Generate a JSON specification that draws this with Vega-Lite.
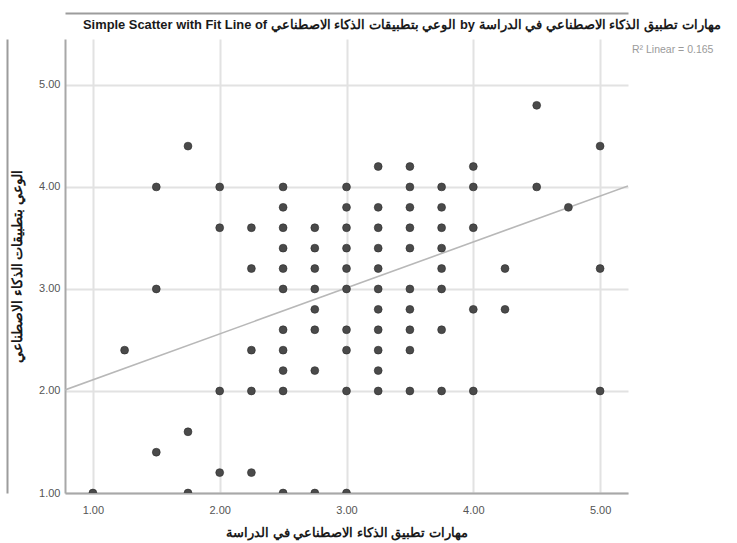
{
  "$schema": "https://vega.github.io/schema/vega-lite/v6.json",
  "width": 563,
  "height": 454,
  "autosize": {"type": "none"},
  "padding": {"left": 65, "top": 39, "right": 109, "bottom": 50},
  "background": "white",
  "config": {"view": {"stroke": null}, "font": "Liberation Sans"},
  "title": {
    "text": "Simple Scatter with Fit Line of الوعي بتطبيقات الذكاء الاصطناعي by مهارات تطبيق الذكاء الاصطناعي في الدراسة",
    "anchor": "start",
    "frame": "group",
    "dx": 18,
    "offset": -19,
    "fontSize": 12.9,
    "fontWeight": "bold",
    "font": "Liberation Sans",
    "color": "#1a1a1a"
  },
  "datasets": {
    "points": [
      {"x": 4.5, "y": 4.8},
      {"x": 1.75, "y": 4.4}, {"x": 5.0, "y": 4.4},
      {"x": 3.25, "y": 4.2}, {"x": 3.5, "y": 4.2}, {"x": 4.0, "y": 4.2},
      {"x": 1.5, "y": 4.0}, {"x": 2.0, "y": 4.0}, {"x": 2.5, "y": 4.0}, {"x": 3.0, "y": 4.0}, {"x": 3.5, "y": 4.0}, {"x": 3.75, "y": 4.0}, {"x": 4.0, "y": 4.0}, {"x": 4.5, "y": 4.0},
      {"x": 2.5, "y": 3.8}, {"x": 3.0, "y": 3.8}, {"x": 3.25, "y": 3.8}, {"x": 3.5, "y": 3.8}, {"x": 3.75, "y": 3.8}, {"x": 4.75, "y": 3.8},
      {"x": 2.0, "y": 3.6}, {"x": 2.25, "y": 3.6}, {"x": 2.5, "y": 3.6}, {"x": 2.75, "y": 3.6}, {"x": 3.0, "y": 3.6}, {"x": 3.25, "y": 3.6}, {"x": 3.5, "y": 3.6}, {"x": 3.75, "y": 3.6}, {"x": 4.0, "y": 3.6},
      {"x": 2.5, "y": 3.4}, {"x": 2.75, "y": 3.4}, {"x": 3.0, "y": 3.4}, {"x": 3.25, "y": 3.4}, {"x": 3.5, "y": 3.4}, {"x": 3.75, "y": 3.4},
      {"x": 2.25, "y": 3.2}, {"x": 2.5, "y": 3.2}, {"x": 2.75, "y": 3.2}, {"x": 3.0, "y": 3.2}, {"x": 3.25, "y": 3.2}, {"x": 3.75, "y": 3.2}, {"x": 4.25, "y": 3.2}, {"x": 5.0, "y": 3.2},
      {"x": 1.5, "y": 3.0}, {"x": 2.5, "y": 3.0}, {"x": 2.75, "y": 3.0}, {"x": 3.0, "y": 3.0}, {"x": 3.25, "y": 3.0}, {"x": 3.5, "y": 3.0}, {"x": 3.75, "y": 3.0},
      {"x": 2.75, "y": 2.8}, {"x": 3.25, "y": 2.8}, {"x": 3.5, "y": 2.8}, {"x": 4.0, "y": 2.8}, {"x": 4.25, "y": 2.8},
      {"x": 2.5, "y": 2.6}, {"x": 2.75, "y": 2.6}, {"x": 3.0, "y": 2.6}, {"x": 3.25, "y": 2.6}, {"x": 3.5, "y": 2.6}, {"x": 3.75, "y": 2.6},
      {"x": 1.25, "y": 2.4}, {"x": 2.25, "y": 2.4}, {"x": 2.5, "y": 2.4}, {"x": 3.0, "y": 2.4}, {"x": 3.25, "y": 2.4}, {"x": 3.5, "y": 2.4},
      {"x": 2.5, "y": 2.2}, {"x": 2.75, "y": 2.2}, {"x": 3.25, "y": 2.2},
      {"x": 2.0, "y": 2.0}, {"x": 2.25, "y": 2.0}, {"x": 2.5, "y": 2.0}, {"x": 3.0, "y": 2.0}, {"x": 3.25, "y": 2.0}, {"x": 3.5, "y": 2.0}, {"x": 3.75, "y": 2.0}, {"x": 4.0, "y": 2.0}, {"x": 5.0, "y": 2.0},
      {"x": 1.75, "y": 1.6},
      {"x": 1.5, "y": 1.4},
      {"x": 2.0, "y": 1.2}, {"x": 2.25, "y": 1.2},
      {"x": 1.0, "y": 1.0}, {"x": 1.75, "y": 1.0}, {"x": 2.5, "y": 1.0}, {"x": 2.75, "y": 1.0}, {"x": 3.0, "y": 1.0}
    ],
    "fit": [{"x": 0.78, "y": 2.01}, {"x": 5.22, "y": 4.01}],
    "note": [{"label": "R² Linear = 0.165"}]
  },
  "resolve": {"axis": {"x": "independent", "y": "independent"}},
  "layer": [
    {
      "data": {"name": "fit"},
      "mark": {"type": "line", "color": "#b8b8b8", "strokeWidth": 1.6, "clip": true},
      "encoding": {
        "x": {
          "field": "x", "type": "quantitative",
          "axis": {"orient": "top", "offset": 26, "domain": true, "domainColor": "#9c9c9c", "domainWidth": 2, "labels": false, "ticks": false, "grid": false, "title": null}
        },
        "y": {
          "field": "y", "type": "quantitative",
          "axis": {"orient": "left", "offset": 58, "domain": true, "domainColor": "#9c9c9c", "domainWidth": 2, "labels": false, "ticks": false, "grid": false, "title": null}
        }
      }
    },
    {
      "data": {"name": "points"},
      "mark": {"type": "point", "filled": true, "shape": "circle", "size": 62, "color": "#4a4a4a", "stroke": "#2c2c2c", "strokeWidth": 0.6, "opacity": 1, "clip": true},
      "encoding": {
        "x": {
          "field": "x", "type": "quantitative",
          "scale": {"domain": [0.78, 5.22], "nice": false, "zero": false},
          "axis": {
            "orient": "bottom",
            "values": [1, 2, 3, 4, 5], "format": ".2f",
            "title": "مهارات تطبيق الذكاء الاصطناعي في الدراسة",
            "titleFont": "Liberation Sans", "titleFontSize": 12.5, "titleFontWeight": "bold", "titleColor": "#1a1a1a", "titlePadding": 11,
            "labelFont": "Liberation Sans", "labelFontSize": 11, "labelColor": "#555555", "labelPadding": 11,
            "ticks": false, "domainColor": "#a8a8a8", "domainWidth": 2,
            "grid": true, "gridColor": "#e2e2e2", "gridWidth": 2
          }
        },
        "y": {
          "field": "y", "type": "quantitative",
          "scale": {"domain": [1, 5.45], "nice": false, "zero": false},
          "axis": {
            "orient": "left",
            "values": [1, 2, 3, 4, 5], "format": ".2f",
            "title": "الوعي بتطبيقات الذكاء الاصطناعي",
            "titleFont": "Liberation Sans", "titleFontSize": 13.5, "titleFontWeight": "bold", "titleColor": "#1a1a1a", "titlePadding": 14,
            "labelFont": "Liberation Sans", "labelFontSize": 11, "labelColor": "#555555", "labelPadding": 5,
            "ticks": false, "domainColor": "#a8a8a8", "domainWidth": 2,
            "grid": true, "gridColor": "#e2e2e2", "gridWidth": 2
          }
        }
      }
    },
    {
      "data": {"name": "note"},
      "mark": {"type": "text", "align": "left", "baseline": "middle", "dx": 4, "fontSize": 10.5, "font": "Liberation Sans", "color": "#9a9a9a"},
      "encoding": {
        "x": {"datum": 5.22, "type": "quantitative", "axis": null},
        "y": {"datum": 5.34, "type": "quantitative", "axis": null},
        "text": {"field": "label"}
      }
    }
  ]
}
